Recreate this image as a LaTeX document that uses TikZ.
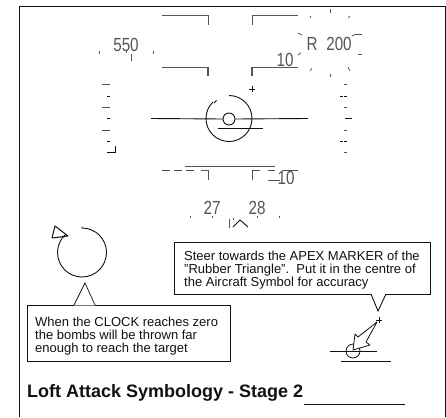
\documentclass[tikz,border=0pt]{standalone}
\usepackage{fontspec}
\setmainfont{Liberation Sans}
\newfontfamily\hudfont[FakeStretch=.8]{Liberation Sans}
\usetikzlibrary{calc,positioning}
\definecolor{hudgrey}{HTML}{555555}
\definecolor{inkdark}{HTML}{111111}

\begin{document}
\begin{tikzpicture}[x=1pt,y=-1pt,
      hudline/.style={hudgrey, line width=.8pt},
      hudthick/.style={hudgrey, line width=1.5pt},
      tick/.style={hudgrey, line width=.7pt},
      solidline/.style={inkdark, line width=.9pt},
      digits/.style={inner sep=0pt, text=hudgrey, font=\hudfont\fontsize{19}{19}\selectfont},
      callout/.style={draw=inkdark, line width=.6pt, fill=white, inner sep=0pt, anchor=north west},
      calltext/.style={anchor=north west, inner sep=0pt, align=left, text=inkdark,
                       font=\fontsize{13}{13}\selectfont},
    ]
      \useasboundingbox (0,0) rectangle (446,417);

      % frame
      \draw[inkdark, line width=1pt] (19,417) -- (19,7) -- (445,7) -- (445,417);

      % pitch brackets
      \draw[hudline] (162,15) -- (208,15) -- (208,25);
      \draw[hudline] (252,25) -- (252,15) -- (298,15);
      \draw[hudthick] (162,67.5) -- (208,67.5) -- (208,76);
      \draw[hudthick] (252,76) -- (252,67.5) -- (298,67.5);
      \draw[hudline] (185,166) -- (275,166);
      \draw[hudthick, dash pattern=on 7.5pt off 4.5pt] (162,170.5) -- (196,170.5);
      \draw[hudline] (201,170.5) -- (208,170.5) -- (208,180);
      \draw[hudline] (252,180) -- (252,170.5) -- (260,170.5);
      \draw[hudline] (268,170.5) -- (275,170.5) (268,180) -- (280,180) (282,170.5) -- (298,170.5);

      % readouts
      \node[digits] (speed) at (126,44.5) {550};
      \node[digits] (rlabel) at (312,44) {R};
      \node[digits] (range) at (339,44) {200};
      \node[digits] (alt) at (285,60) {10};
      \node[digits] (altlow) at (286,178) {10};
      \node[digits] (hdgl) at (212,208) {27};
      \node[digits] (hdgr) at (257,208) {28};

      % ticks
      \foreach \x/\a/\b in {99.5/51/54, 126/51/53, 131/54/61, 153.5/51/54, 330/9/13, 330/74/77,
                            190/216/218, 212/216/218, 257/216/218, 279/216/218, 229/219/228, 233/218/220}
        \draw[tick] (\x,\a) -- (\x,\b);
      \foreach \a/\b/\c/\d in {310/16/311/18, 350/16/348/18, 298/33/302/35, 352/36/356/34, 356/34/362/34,
                               298/55/301/53, 358/54/362/54, 312/68/310/71, 348/67/350/71}
        \draw[tick] (\a,\b) -- (\c,\d);

      % left tape
      \foreach \y in {84,107,130}
        \draw[tick] (102,\y) -- (110,\y);
      \foreach \y in {96,118.5,141}
        \draw[solidline] (107,\y) -- (110,\y);
      \draw[solidline] (107,152) -- (115,152) -- (115,146);

      % right tape
      \foreach \y in {84,107,130,152}
        \draw[tick] (344,\y) -- (347,\y);
      \foreach \y in {96,141}
        \draw[solidline, dash pattern=on 3pt off 1pt] (340,\y) -- (347,\y);
      \draw[solidline] (345,118.5) -- (352,118.5);

      % aircraft symbol, clock and apex marker
      \node[circle, draw=inkdark, line width=.9pt, minimum size=12pt, inner sep=0pt] (acft) at (229,119) {};
      \draw[solidline] (151,118.5) -- (acft.west) (acft.east) -- (308,118.5);
      \draw[solidline] (218,128) -- (263,128);
      \draw[solidline] (229,95.5) arc[start angle=-90, end angle=226, radius=23];
      \draw[solidline] (214,103) -- (216.5,100.5);
      \draw[inkdark, line width=.7pt] (249,89) -- (255,89) (252,86) -- (252,92);
      \draw[solidline] (233,227) -- (240,220) -- (248,227);

      % clock
      \draw[solidline] (82,226.5) -- (82,228) arc[start angle=-90, end angle=227, radius=24.5];
      \draw[inkdark, line width=1pt, line join=round] (55,226) -- (52,238) -- (68,236) -- cycle;

      % callouts
      \node[callout, minimum width=203pt, minimum height=56pt] (clockbox) at (27,305) {};
      \node[calltext] (clocktext) at (35,317)
        {When the CLOCK reaches zero\\the bombs will be thrown far\\enough to reach the target};
      \node[callout, minimum width=256pt, minimum height=52pt] (apexbox) at (174,242) {};
      \node[calltext] (apextext) at (184,250.5)
        {Steer towards the APEX MARKER of the\\"Rubber Triangle".\ \ Put it in the centre of\\the Aircraft Symbol for accuracy};
      \draw[fill=white, draw=white, line width=.8pt] (74.5,305) -- (94.5,305) -- (85,290) -- cycle;
      \draw[inkdark, line width=.7pt] (74,305) -- (85,283) -- (95,305);
      \draw[fill=white, draw=white, line width=.8pt] (371.5,294) -- (385.5,294) -- (378,305) -- cycle;
      \draw[inkdark, line width=.9pt] (371,294) -- (378,311) -- (386,294);

      % small symbol
      \draw[inkdark, line width=.6pt] (330,351) -- (377,351);
      \draw[solidline] (341,361.5) -- (391,361.5);
      \node[circle, draw=inkdark, line width=.8pt, minimum size=14pt, inner sep=0pt] (minisym) at (353,351) {};
      \draw[inkdark, line width=.8pt, fill=white, line join=round]
        (377,322) -- (358,337) -- (355,334) -- (353,350) -- (370,345) -- (366,342) -- cycle;
      \draw[inkdark, line width=.8pt] (375.5,320) -- (382,320) (379,317) -- (379,323);

      % title
      \node[anchor=base west, inner sep=0pt, text=inkdark, font=\bfseries\fontsize{18}{20}\selectfont]
        (title) at (27,397) {Loft Attack Symbology - Stage 2};
      \draw[inkdark, line width=1pt] (304,404) -- (405,404);
    \end{tikzpicture}
\end{document}
